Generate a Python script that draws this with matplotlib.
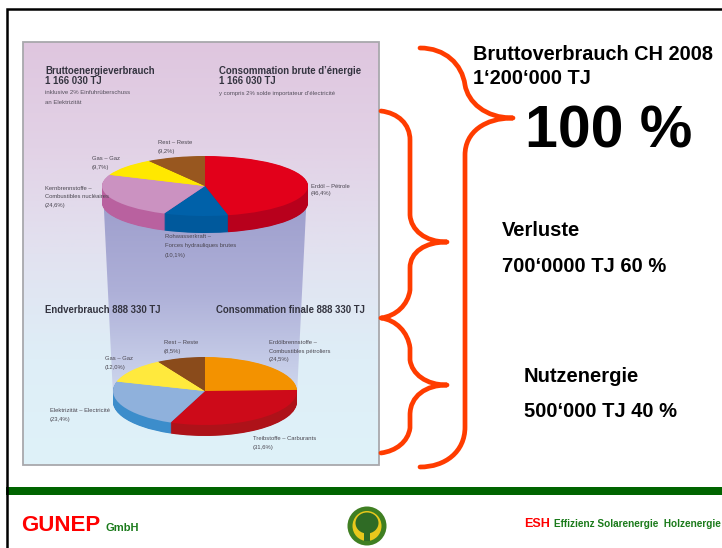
import numpy as np
import matplotlib
matplotlib.use('Agg')
import matplotlib.pyplot as plt
from matplotlib.colors import LinearSegmentedColormap
from matplotlib.patches import Ellipse, Polygon, Rectangle, PathPatch
from matplotlib.path import Path

plt.rcParams['font.family'] = ['Liberation Sans', 'DejaVu Sans']

W, H = 722, 548

# obere Torte - Bruttoenergieverbrauch
brutto_values = [46.4, 10.1, 24.6, 9.7, 9.2]
brutto_colors = ['#e2001a', '#0061a9', '#cb92c1', '#ffe800', '#98571f']
brutto_sides = ['#b8001c', '#00599c', '#b9619f', '#ffe800', '#98571f']

# untere Torte - Endverbrauch
end_values = [24.5, 31.6, 23.4, 12.0, 8.5]
end_colors = ['#f39200', '#cd0a19', '#8fb1dc', '#ffe93d', '#8a4b1b']
end_sides = ['#f39200', '#ae1219', '#3c8dcb', '#ffe93d', '#8a4b1b']

brutto_labels = [
    (158, 143.5, 'Rest – Reste'), (158, 152.5, '(9,2%)'),
    (92, 159.5, 'Gas – Gaz'), (92, 168.5, '(9,7%)'),
    (45, 189.5, 'Kernbrennstoffe –'), (45, 198.5, 'Combustibles nucléaires'), (45, 207.5, '(24,6%)'),
    (311, 187.5, 'Erdöl – Pétrole'), (311, 195.5, '(46,4%)'),
    (165, 238.5, 'Rohwasserkraft –'), (165, 247.5, 'Forces hydrauliques brutes'), (165, 256.5, '(10,1%)'),
]
end_labels = [
    (164, 344.5, 'Rest – Reste'), (164, 353.5, '(8,5%)'),
    (105, 359.5, 'Gas – Gaz'), (105, 368.5, '(12,0%)'),
    (269, 344.5, 'Erdölbrennstoffe –'), (269, 353.5, 'Combustibles pétroliers'), (269, 361.5, '(24,5%)'),
    (50, 412.5, 'Elektrizität – Electricité'), (50, 421.5, '(23,4%)'),
    (253, 440.5, 'Treibstoffe – Carburants'), (253, 449.5, '(31,6%)'),
]
headings = [
    (45, 74, 'Bruttoenergieverbrauch'), (45, 84, '1 166 030 TJ'),
    (219, 74, 'Consommation brute d’énergie'), (219, 84, '1 166 030 TJ'),
    (45, 313, 'Endverbrauch 888 330 TJ'), (216, 313, 'Consommation finale 888 330 TJ'),
]
notes = [
    (45, 94.5, 'inklusive 2% Einfuhrüberschuss'), (45, 103.5, 'an Elektrizität'),
    (219, 94.5, 'y compris 2% solde importateur d’électricité'),
]


def draw_pie(fig, values, colors, sides, cx, cy, rx, ry, depth):
    # Torte in eigenen Axes, gestaucht auf eine Ellipse
    bottom = cy + ry + depth
    pie_ax = fig.add_axes([(cx - rx) / W, 1 - bottom / H, 2 * rx / W, (2 * ry + depth) / H], zorder=2)
    for d in np.arange(depth, 0, -0.5):
        pie_ax.pie(values, colors=sides, startangle=90, counterclock=False, center=(0, -d / ry), radius=1)
    pie_ax.pie(values, colors=colors, startangle=90, counterclock=False, radius=1)
    pie_ax.set_aspect('auto')
    pie_ax.set_xlim(-1, 1)
    pie_ax.set_ylim(-1 - depth / ry, 1)
    pie_ax.axis('off')


def draw_brace(ax, points):
    # points: start, dann je drei Punkte pro Bezier-Segment
    codes = [Path.MOVETO] + [Path.CURVE4] * (len(points) - 1)
    ax.add_patch(PathPatch(Path(points, codes), fill=False, ec='#ff3c00', lw=3.4, capstyle='round', joinstyle='round'))


fig = plt.figure(figsize=(W / 100, H / 100), dpi=100)
ax = fig.add_axes([0, 0, 1, 1], zorder=1)
ax.set_xlim(0, W)
ax.set_ylim(H, 0)
ax.axis('off')

top = fig.add_axes([0, 0, 1, 1], zorder=3)
top.set_xlim(0, W)
top.set_ylim(H, 0)
top.axis('off')
top.patch.set_alpha(0)

# Hintergrund der Grafik
panel_cmap = LinearSegmentedColormap.from_list('panel', ['#dfc6df', '#e2d2e6', '#e2e2f0', '#deeef7', '#dff2f9'])
grad = np.linspace(0, 1, 256).reshape(-1, 1)
ax.imshow(grad, cmap=panel_cmap, extent=(23, 379, 465, 42), aspect='auto', zorder=1)
ax.add_patch(Rectangle((23, 42), 356, 423, fill=False, ec='#a8a8ac', lw=1.3, zorder=4))

funnel_cmap = LinearSegmentedColormap.from_list('funnel', ['#9c9ccb', '#aeb0d8', '#cfd8ee'])
funnel = ax.imshow(grad, cmap=funnel_cmap, extent=(103, 307, 395, 190), aspect='auto', zorder=2)
clip = Polygon([(103, 190), (307, 190), (297, 395), (113, 395)], transform=ax.transData, fc='none', ec='none')
ax.add_patch(clip)
funnel.set_clip_path(clip)
ax.set_xlim(0, W)
ax.set_ylim(H, 0)

draw_pie(fig, brutto_values, brutto_colors, brutto_sides, 205, 186, 103, 30, 17)
draw_pie(fig, end_values, end_colors, end_sides, 205, 391, 92, 34, 11)

for x, y, s in headings:
    top.text(x, y, s, fontsize=6.9, fontweight='bold', color='#33333f')
for x, y, s in notes:
    top.text(x, y, s, fontsize=4.3, color='#55505c')
for x, y, s in brutto_labels + end_labels:
    top.text(x, y, s, fontsize=4.2, color='#4a4650')

# Klammern
draw_brace(top, [(420, 48), (445, 48), (462, 64), (465, 85),
                 (468, 102), (485, 118), (513, 118),
                 (485, 118), (465, 132), (465, 155),
                 (465, 250), (465, 340), (465, 427),
                 (465, 452), (445, 467), (420, 467)])
draw_brace(top, [(381, 111), (398, 113), (410, 124), (410, 140),
                 (410, 165), (410, 190), (410, 215),
                 (411, 230), (425, 242), (447, 242),
                 (425, 242), (410, 252), (410, 268),
                 (410, 275), (410, 280), (410, 290),
                 (408, 305), (396, 316), (381, 318),
                 (396, 320), (408, 332), (410, 348),
                 (410, 352), (410, 356), (410, 360),
                 (412, 374), (426, 385), (447, 385),
                 (426, 385), (410, 396), (410, 415),
                 (410, 420), (410, 424), (410, 428),
                 (408, 442), (396, 451), (381, 453)])

# Texte rechts
top.text(473, 60, 'Bruttoverbrauch CH 2008', fontsize=14.3, fontweight='bold')
top.text(473, 84, '1‘200‘000 TJ', fontsize=14.3, fontweight='bold')
top.text(525, 147, '100 %', fontsize=42.5, fontweight='bold')
top.text(502, 236, 'Verluste', fontsize=14.5, fontweight='bold')
top.text(502, 272, '700‘0000 TJ 60 %', fontsize=14.5, fontweight='bold')
top.text(524, 382, 'Nutzenergie', fontsize=14.5, fontweight='bold')
top.text(524, 417, '500‘000 TJ 40 %', fontsize=14.5, fontweight='bold')

# Rahmen und Fusszeile
top.plot([6.5, 6.5, W], [H, 8.5, 8.5], color='black', lw=1.8, solid_joinstyle='miter')
top.add_patch(Rectangle((6, 487), W - 6, 8, fc='#006400', ec='none'))
top.text(21, 531, 'GUNEP', fontsize=16, fontweight='bold', color='#ff0000')
top.text(105, 531, 'GmbH', fontsize=8, fontweight='bold', color='#1a7a1a')
top.text(524, 527, 'ESH', fontsize=9, fontweight='bold', color='#ff0000')
top.text(554, 527, 'Effizienz Solarenergie  Holzenergie', fontsize=7.2, fontweight='bold', color='#1a7a1a')

# Logo
top.add_patch(Ellipse((367, 526), 39, 39, fc='#3f7f22', ec='none'))
top.add_patch(Ellipse((367, 526), 29, 30, fc='#e9c81c', ec='none'))
top.add_patch(Rectangle((364, 528), 6, 13, fc='#2f6b25', ec='none'))
top.add_patch(Ellipse((367, 523), 23, 21, fc='#2f6b25', ec='none'))

fig.savefig('out.png', dpi=100)
